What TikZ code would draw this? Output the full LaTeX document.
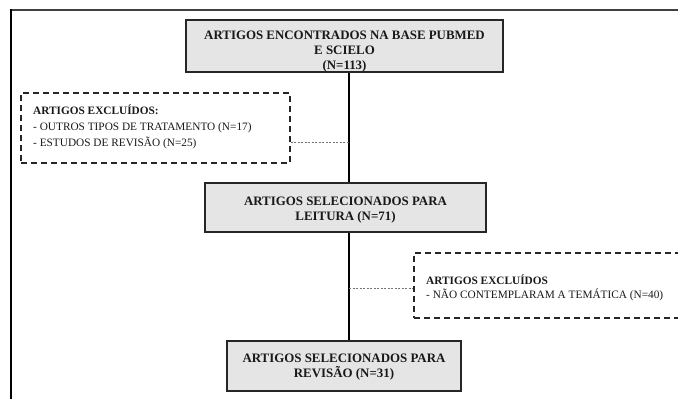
\documentclass[tikz,border=0pt]{standalone}
\usepackage{fontspec}
\setmainfont{Liberation Serif}
\newcommand\boxtitlefont{\fontsize{12.9}{15}\selectfont\bfseries}
\newcommand\smallnotefont{\fontsize{11.3}{16}\selectfont}
\newcommand\smallnotefontb{\fontsize{11.3}{14}\selectfont}
\tikzset{
  mainbox/.style={draw=black!85, line width=1.6pt, fill=black!10, inner sep=0pt},
  dashbox/.style={draw=black!85, line width=1.4pt, dash pattern=on 6pt off 4pt, inner sep=0pt},
  boxtext/.style={inner sep=0pt, align=center, font=\boxtitlefont, text=black!90},
  notetext/.style={inner sep=0pt, align=left, anchor=west, text=black!90},
  spineline/.style={draw=black, line width=1.8pt},
  dotline/.style={draw=black!55, line width=0.8pt, dash pattern=on 2pt off 1.5pt},
  frameline/.style={line width=2pt}
}
\begin{document}
\begin{tikzpicture}[x=1pt,y=-1pt]
\useasboundingbox (0,0) rectangle (678,399);
\clip (0,0) rectangle (678,399);
\fill[white] (0,0) rectangle (678,399);
% outer frame (cropped)
\draw[frameline, draw=black!75] (10,10) -- (690,10);
\draw[frameline, draw=black] (11,9) -- (11,410);
% boxes
\node[mainbox, minimum width=317pt, minimum height=52pt] (top) at (344.5,46) {};
\node[mainbox, minimum width=281pt, minimum height=49pt] (mid) at (345.5,207.5) {};
\node[mainbox, minimum width=234pt, minimum height=50pt] (bot) at (344,366) {};
\node[dashbox, minimum width=269pt, minimum height=70pt] (exl) at (155.5,128) {};
\node[dashbox, minimum width=286pt, minimum height=65pt] (exr) at (557,285.5) {};
% texts
\node[boxtext] (toptext) at (344.5,51.5) {ARTIGOS ENCONTRADOS NA BASE PUBMED\\E SCIELO\\(N=113)};
\node[boxtext] (midtext) at (345.5,210) {ARTIGOS SELECIONADOS PARA\\LEITURA (N=71)};
\node[boxtext] (bottext) at (344,367) {ARTIGOS SELECIONADOS PARA\\REVISÃO (N=31)};
\node[notetext, font=\smallnotefont] (exltext) at (33,127) {\textbf{ARTIGOS EXCLUÍDOS:}\\- OUTROS TIPOS DE TRATAMENTO (N=17)\\- ESTUDOS DE REVISÃO (N=25)};
\node[notetext, font=\smallnotefontb] (exrtext) at (426,288) {\textbf{ARTIGOS EXCLUÍDOS}\\- NÃO CONTEMPLARAM A TEMÁTICA (N=40)};
% spine
\coordinate (spine) at (349,0);
\coordinate (j1) at (349,142);
\coordinate (j2) at (349,288);
\draw[spineline] (top.south -| spine) -- (mid.north -| spine);
\draw[spineline] (mid.south -| spine) -- (bot.north -| spine);
% dotted side connectors
\draw[dotline] (exl.east |- j1) -- (j1);
\draw[dotline] (j2) -- (exr.west |- j2);
\end{tikzpicture}
\end{document}
